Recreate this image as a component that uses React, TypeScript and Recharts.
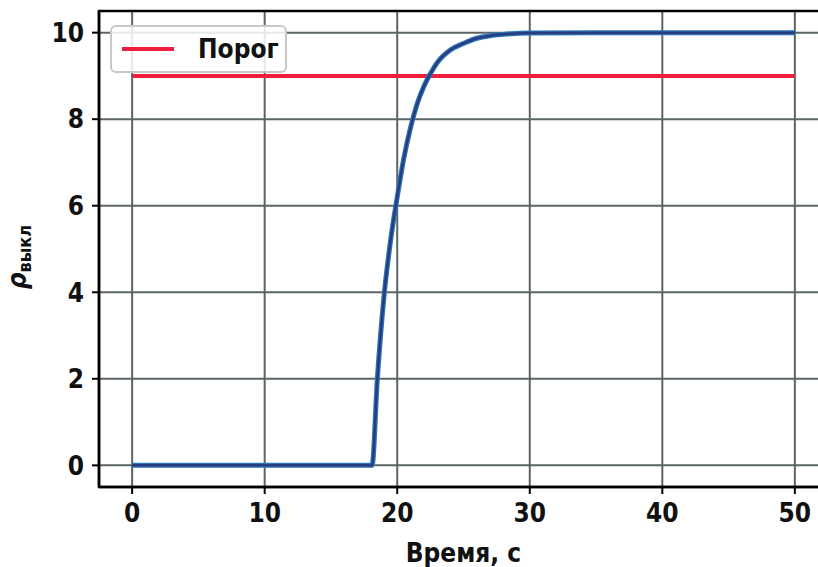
import {
  LineChart,
  Line,
  XAxis,
  YAxis,
  CartesianGrid,
  Legend,
  ReferenceArea,
} from "recharts";

// time, s
const responseTime = [
  0, 18.1, 18.5, 19, 19.5, 20, 20.5, 21, 21.5, 22, 22.5, 23, 24, 25, 26, 27, 28,
  30, 35, 40, 45, 50,
];
// rho_vykl
const responseValue = [
  0, 0, 2.0, 3.9, 5.2, 6.2, 7.1, 7.8, 8.35, 8.75, 9.05, 9.3, 9.6, 9.75, 9.87,
  9.93, 9.96, 9.99, 10, 10, 10, 10,
];
const thresholdTime = [0, 50];
const thresholdValue = [9, 9];

const xTicks = [0, 10, 20, 30, 40, 50];
const yTicks = [0, 2, 4, 6, 8, 10];

const response = responseTime.map((t, i) => ({ t, v: responseValue[i] }));
const threshold = thresholdTime.map((t, i) => ({ t, v: thresholdValue[i] }));

const FONT = "'DejaVu Sans Condensed', 'DejaVu Sans', sans-serif";
const tickStyle = { fontFamily: FONT, fontSize: 26, fontWeight: "bold", fill: "#111" };

const YLabel = (props: any) => {
  const vb = props.viewBox || { x: 0, y: 0, width: 99, height: 475 };
  const cx = vb.x + 26;
  const cy = vb.y + vb.height / 2 + 8;
  return (
    <text
      x={cx}
      y={cy}
      textAnchor="middle"
      transform={`rotate(-90 ${cx} ${cy})`}
      fontFamily={FONT}
      fontWeight="bold"
      fill="#111"
    >
      <tspan fontSize={26} fontStyle="italic">ρ</tspan>
      <tspan fontSize={18} dy={5}>выкл</tspan>
    </text>
  );
};

const LegendBox = () => (
  <div
    style={{
      width: 177,
      height: 48,
      boxSizing: "border-box",
      border: "2px solid #c8c8c8",
      borderRadius: 6,
      background: "rgba(255,255,255,0.85)",
      display: "flex",
      alignItems: "center",
      fontFamily: FONT,
      fontWeight: "bold",
      fontSize: 26,
      color: "#111",
    }}
  >
    <span
      style={{
        display: "inline-block",
        width: 52,
        height: 4,
        background: "#ee1f3b",
        marginLeft: 10,
        marginRight: 24,
      }}
    />
    Порог
  </div>
);

export default function App() {
  return (
    <div
      style={{
        position: "absolute",
        left: 0,
        top: 0,
        width: 818,
        height: 567,
        overflow: "hidden",
        background: "#fff",
      }}
    >
      <LineChart
        width={832}
        height={567}
        margin={{ top: 11, right: 4, bottom: 0, left: 0 }}
      >
        <CartesianGrid stroke="#5b6664" strokeWidth={2} />
        <XAxis
          type="number"
          dataKey="t"
          domain={[-2.5, 52.5]}
          ticks={xTicks}
          allowDataOverflow
          height={80}
          tick={tickStyle}
          tickSize={7}
          tickMargin={10}
          axisLine={{ stroke: "#000", strokeWidth: 2.5 }}
          tickLine={{ stroke: "#000", strokeWidth: 2 }}
          label={{
            value: "Время, с",
            position: "insideBottom",
            offset: 5,
            style: { fontFamily: FONT, fontSize: 26, fontWeight: "bold", fill: "#111" },
          }}
        />
        <YAxis
          type="number"
          domain={[-0.5, 10.5]}
          ticks={yTicks}
          allowDataOverflow
          width={99}
          tick={tickStyle}
          tickSize={7}
          tickMargin={8}
          axisLine={{ stroke: "#000", strokeWidth: 2.5 }}
          tickLine={{ stroke: "#000", strokeWidth: 2 }}
          label={YLabel}
        />
        <ReferenceArea
          x1={-2.5}
          x2={52.5}
          y1={-0.5}
          y2={10.5}
          fill="none"
          stroke="#000"
          strokeWidth={2.5}
          fillOpacity={0}
        />
        <Line
          data={threshold}
          dataKey="v"
          name="Порог"
          stroke="#ee1f3b"
          strokeWidth={4}
          dot={false}
          isAnimationActive={false}
        />
        <Line
          data={response}
          dataKey="v"
          stroke="#2a74b8"
          strokeWidth={5}
          dot={false}
          type="monotone"
          legendType="none"
          isAnimationActive={false}
        />
        <Line
          data={response}
          dataKey="v"
          stroke="#283c7e"
          strokeWidth={2.5}
          dot={false}
          type="monotone"
          legendType="none"
          isAnimationActive={false}
        />
        <Legend
          layout="horizontal"
          verticalAlign="middle"
          align="center"
          content={LegendBox}
          wrapperStyle={{ position: "absolute", left: 110, top: 25, width: "auto" }}
        />
      </LineChart>
    </div>
  );
}
